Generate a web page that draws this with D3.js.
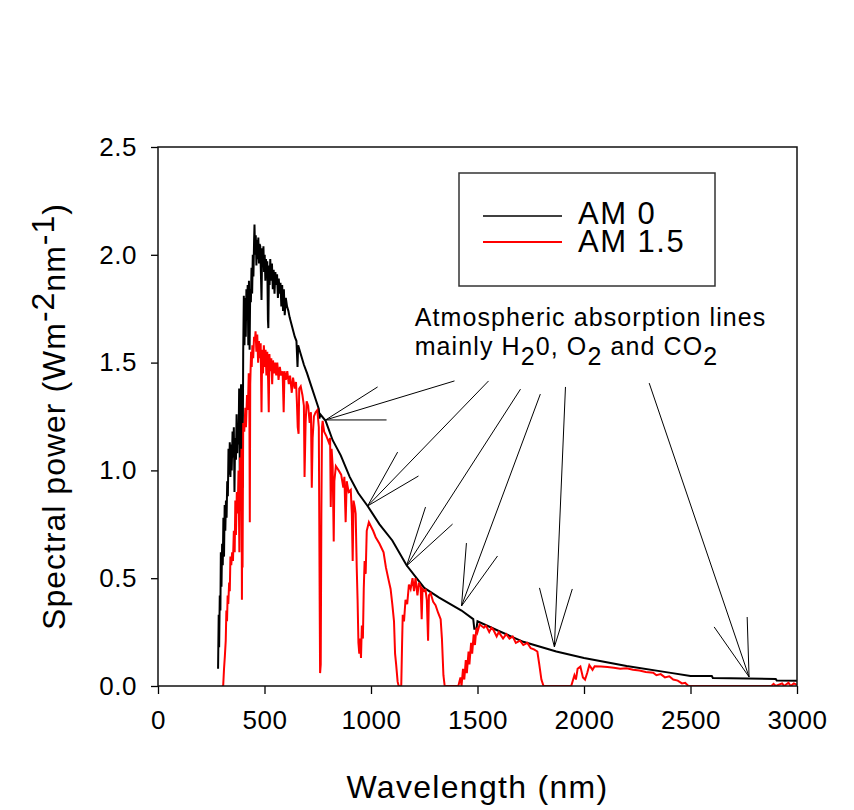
<!DOCTYPE html>
<html>
<head>
<meta charset="utf-8">
<script src="https://cdn.jsdelivr.net/npm/d3@7"></script>
<style>
  body { margin: 0; background: #fff; }
  svg text { font-family: Arial, "Liberation Sans", sans-serif; fill: #000; white-space: pre; }
</style>
</head>
<body>
<svg id="chart" width="854" height="810"></svg>
<script>
// AM 0 spectrum, [wavelength nm, W m-2 nm-1]
const am0 = [
  [282, 0.08], [285, 0.33], [287, 0.18], [290, 0.42], [293, 0.35], [295, 0.62], [298, 0.46],
  [301, 0.66], [304, 0.56], [307, 0.78], [310, 0.60], [313, 0.84], [316, 0.72], [319, 0.86],
  [322, 0.78], [325, 0.95], [328, 0.88], [331, 1.10], [334, 0.98], [337, 1.13], [340, 0.97],
  [343, 1.12], [346, 1.00], [350, 1.18], [353, 1.06], [356, 1.20], [359, 0.90], [362, 1.15],
  [366, 1.05], [369, 1.26], [372, 1.08], [375, 1.22], [378, 1.12], [381, 1.38], [384, 1.00],
  [387, 1.30], [390, 1.40], [393, 0.85], [395, 1.30], [397, 0.92], [400, 1.55], [403, 1.81],
  [406, 1.58], [409, 1.80], [412, 1.62], [415, 1.84], [418, 1.70], [421, 1.86], [424, 1.58],
  [427, 1.88], [430, 1.56], [433, 1.84], [436, 1.78], [439, 1.94], [442, 1.82], [445, 2.00],
  [448, 1.90], [451, 2.06], [453, 2.14], [456, 2.00], [459, 2.09], [462, 1.95], [465, 2.07],
  [468, 1.98], [471, 2.08], [474, 1.96], [477, 2.05], [480, 2.04], [483, 1.92], [486, 1.79],
  [489, 2.03], [492, 1.96], [495, 2.04], [498, 1.92], [501, 2.00], [504, 1.88], [507, 1.98],
  [510, 1.90], [513, 1.97], [516, 1.70], [518, 1.66], [521, 1.95], [524, 1.86], [527, 1.98],
  [531, 1.88], [535, 1.96], [539, 1.84], [543, 1.93], [547, 1.82], [551, 1.92], [555, 1.86],
  [559, 1.91], [563, 1.80], [567, 1.89], [571, 1.82], [575, 1.87], [579, 1.76], [583, 1.86],
  [587, 1.74], [591, 1.84], [595, 1.72], [600, 1.80], [606, 1.76], [612, 1.74], [618, 1.71],
  [626, 1.68], [634, 1.65], [642, 1.62], [650, 1.60], [655, 1.48], [658, 1.58], [670, 1.54],
  [685, 1.49], [700, 1.45], [720, 1.39], [740, 1.33], [755, 1.285], [758, 1.24], [762, 1.26],
  [787, 1.23], [820, 1.14], [858, 1.07], [900, 0.97], [940, 0.895], [984, 0.835], [1040, 0.75],
  [1100, 0.675], [1167, 0.56], [1250, 0.455], [1320, 0.41], [1425, 0.35], [1480, 0.31],
  [1485, 0.265], [1495, 0.265], [1500, 0.30], [1600, 0.255], [1715, 0.205], [1870, 0.16],
  [2000, 0.13], [2200, 0.093], [2400, 0.062], [2500, 0.046], [2600, 0.046], [2605, 0.037],
  [2900, 0.033], [2905, 0.025], [3000, 0.024]
];

// AM 1.5 spectrum
const am15 = [
  [300, 0.0], [306, 0.0], [310, 0.08], [314, 0.14], [318, 0.21], [321, 0.35], [324, 0.30],
  [327, 0.42], [330, 0.38], [334, 0.48], [337, 0.44], [340, 0.60], [344, 0.56], [348, 0.62],
  [352, 0.58], [356, 0.72], [360, 0.62], [363, 0.86], [366, 0.70], [370, 0.90], [374, 0.80],
  [378, 1.00], [382, 0.62], [385, 1.06], [388, 0.90], [392, 1.10], [394, 0.40], [396, 0.95],
  [397, 0.55], [400, 1.22], [405, 1.18], [410, 1.29], [413, 1.20], [418, 1.35], [422, 1.28],
  [426, 1.45], [429, 1.30], [431, 0.76], [433, 1.40], [437, 1.55], [440, 1.48], [443, 1.58],
  [447, 1.52], [451, 1.62], [455, 1.60], [458, 1.645], [462, 1.55], [466, 1.63], [470, 1.50],
  [474, 1.60], [478, 1.52], [482, 1.59], [486, 1.27], [489, 1.56], [493, 1.45], [497, 1.58],
  [501, 1.48], [505, 1.56], [509, 1.44], [513, 1.55], [517, 1.42], [520, 1.27], [523, 1.54],
  [528, 1.46], [532, 1.52], [536, 1.40], [540, 1.51], [545, 1.45], [550, 1.50], [555, 1.44],
  [560, 1.50], [566, 1.42], [572, 1.48], [578, 1.44], [585, 1.46], [590, 1.27], [594, 1.46],
  [600, 1.42], [607, 1.46], [614, 1.40], [620, 1.44], [628, 1.36], [634, 1.43], [642, 1.38],
  [648, 1.41], [652, 1.32], [656, 1.20], [660, 1.17], [663, 1.38], [670, 1.39], [678, 1.35],
  [685, 1.30], [688, 0.97], [693, 1.22], [698, 1.32], [705, 1.30], [712, 1.22], [718, 1.27],
  [722, 0.92], [726, 1.15], [732, 1.25], [740, 1.27], [748, 1.28], [755, 1.20], [759, 0.40],
  [761, 0.06], [764, 0.10], [767, 0.80], [770, 1.20], [773, 1.23], [780, 1.18], [790, 1.16],
  [802, 1.13], [808, 1.15], [811, 0.83], [815, 1.10], [820, 1.02], [825, 0.67], [828, 0.95],
  [835, 1.02], [848, 1.00], [860, 0.98], [870, 0.92], [875, 0.97], [881, 0.76], [886, 0.95],
  [895, 0.90], [905, 0.91], [910, 0.80], [914, 0.58], [918, 0.86], [924, 0.83], [928, 0.80],
  [933, 0.55], [937, 0.40], [941, 0.20], [945, 0.15], [949, 0.22], [953, 0.13], [957, 0.28],
  [962, 0.22], [966, 0.45], [970, 0.58], [975, 0.52], [980, 0.72], [990, 0.76], [1000, 0.74],
  [1010, 0.72], [1022, 0.69], [1040, 0.66], [1059, 0.62], [1070, 0.55], [1083, 0.49],
  [1092, 0.45], [1100, 0.38], [1108, 0.30], [1113, 0.15], [1118, 0.10], [1125, 0.02],
  [1130, 0.0], [1142, 0.0], [1146, 0.20], [1149, 0.33], [1155, 0.30], [1162, 0.40],
  [1170, 0.38], [1178, 0.47], [1186, 0.45], [1195, 0.50], [1202, 0.44], [1209, 0.50],
  [1218, 0.42], [1225, 0.48], [1233, 0.46], [1238, 0.31], [1242, 0.45], [1250, 0.44],
  [1256, 0.445], [1262, 0.40], [1268, 0.21], [1272, 0.42], [1280, 0.43], [1292, 0.39],
  [1303, 0.375], [1315, 0.34], [1327, 0.31], [1333, 0.22], [1340, 0.05], [1346, 0.0],
  [1410, 0.0], [1420, 0.04], [1425, 0.0], [1432, 0.08], [1438, 0.03], [1445, 0.12],
  [1450, 0.06], [1458, 0.16], [1462, 0.10], [1470, 0.20], [1475, 0.15], [1482, 0.24],
  [1488, 0.19], [1495, 0.27], [1500, 0.25], [1510, 0.285], [1530, 0.27], [1540, 0.28],
  [1555, 0.25], [1565, 0.27], [1575, 0.26], [1590, 0.23], [1600, 0.25], [1620, 0.22],
  [1635, 0.24], [1650, 0.22], [1665, 0.23], [1680, 0.20], [1700, 0.21], [1715, 0.19],
  [1734, 0.20], [1750, 0.175], [1765, 0.17], [1781, 0.16], [1790, 0.10], [1800, 0.03],
  [1810, 0.0], [1940, 0.0], [1955, 0.05], [1962, 0.03], [1970, 0.08], [1983, 0.09],
  [1995, 0.04], [2005, 0.03], [2015, 0.06], [2025, 0.097], [2040, 0.075], [2050, 0.092],
  [2080, 0.09], [2110, 0.088], [2140, 0.085], [2170, 0.08], [2200, 0.082], [2230, 0.075],
  [2260, 0.072], [2290, 0.065], [2325, 0.062], [2340, 0.05], [2360, 0.055], [2380, 0.04],
  [2400, 0.045], [2419, 0.03], [2440, 0.025], [2460, 0.012], [2475, 0.015], [2490, 0.0],
  [2880, 0.0], [2890, 0.01], [2900, 0.0], [2930, 0.012], [2940, 0.0], [2960, 0.015],
  [2970, 0.0], [2985, 0.012], [3000, 0.005]
];

const xTicks = [0, 500, 1000, 1500, 2000, 2500, 3000];
const yTicks = [0.0, 0.5, 1.0, 1.5, 2.0, 2.5];
const seriesNames = ['AM 0', 'AM 1.5'];
const seriesColors = ['#000', '#ff0000'];

// annotation arrows in data units: tip on the curve, long tail to the text, two barbs
const arrowTips  = [[787, 1.234], [984, 0.835], [1167, 0.557], [1425, 0.371], [1861, 0.181], [2775, 0.042]];
const arrowTails = [[1392, 1.415], [1552, 1.415], [1702, 1.377], [1795, 1.354], [1913, 1.387], [2306, 1.405]];
const arrowBarbs = [
  [[1031, 1.387], [1073, 1.234]],
  [[1125, 1.085], [1223, 0.974]],
  [[1256, 0.830], [1383, 0.751]],
  [[1448, 0.663], [1594, 0.603]],
  [[1791, 0.455], [1945, 0.450]],
  [[2611, 0.274], [2766, 0.320]]
];

const svg = d3.select('#chart');
const W = 854, H = 810;
const margin = { left: 158, right: 57, top: 147, bottom: 124 };
const w = W - margin.left - margin.right;
const h = H - margin.top - margin.bottom;

const x = d3.scaleLinear().domain([0, 3000]).range([0, w]);
const y = d3.scaleLinear().domain([0, 2.5]).range([h, 0]);

const g = svg.append('g').attr('transform', 'translate(' + margin.left + ',' + margin.top + ')');

g.append('clipPath').attr('id', 'plot-clip')
  .append('rect').attr('width', w).attr('height', h);

// Axes
const xAxis = g.append('g').attr('transform', 'translate(0,' + h + ')')
  .call(d3.axisBottom(x).tickValues(xTicks).tickSize(8).tickPadding(17).tickFormat(d3.format('d')));
const yAxis = g.append('g')
  .call(d3.axisLeft(y).tickValues(yTicks).tickSize(7).tickPadding(14).tickFormat(d3.format('.1f')));

[xAxis, yAxis].forEach(a => {
  a.select('.domain').remove();
  a.selectAll('line').attr('stroke', '#000').attr('stroke-width', 1.3);
  a.selectAll('text').style('font-size', '26px').style('letter-spacing', '0.5px')
    .attr('fill', '#000');
});

// Lines
const line = d3.line().x(d => x(d[0])).y(d => y(d[1]));
const paths = g.append('g').attr('clip-path', 'url(#plot-clip)');
[am0, am15].forEach((s, i) => {
  paths.append('path')
    .datum(s)
    .attr('d', line)
    .attr('fill', 'none')
    .attr('stroke', seriesColors[i])
    .attr('stroke-width', 2)
    .attr('stroke-linejoin', 'miter');
});

// Frame
g.append('rect').attr('width', w).attr('height', h)
  .attr('fill', 'none').attr('stroke', '#111').attr('stroke-width', 1.5);

// Arrows
const arrows = g.append('g').attr('stroke', '#000').attr('stroke-width', 1);
arrowTips.forEach((tip, i) => {
  [arrowTails[i], arrowBarbs[i][0], arrowBarbs[i][1]].forEach(p => {
    arrows.append('line')
      .attr('x1', x(tip[0])).attr('y1', y(tip[1]))
      .attr('x2', x(p[0])).attr('y2', y(p[1]));
  });
});

// Annotation text
const note = g.append('g').style('font-size', '25px').style('letter-spacing', '1.1px');
note.append('text').attr('x', x(1205)).attr('y', y(1.672)).text('Atmospheric absorption lines');
const t2 = note.append('text').attr('x', x(1205)).attr('y', y(1.533));
t2.append('tspan').text('mainly H');
t2.append('tspan').attr('dy', 10).text('2');
t2.append('tspan').attr('dy', -10).text('0, O');
t2.append('tspan').attr('dy', 10).text('2');
t2.append('tspan').attr('dy', -10).text(' and CO');
t2.append('tspan').attr('dy', 10).text('2');

// Legend
const legend = svg.append('g').attr('transform', 'translate(459,173)');
legend.append('rect').attr('width', 256).attr('height', 113)
  .attr('fill', '#fff').attr('stroke', '#333').attr('stroke-width', 1.5);
seriesNames.forEach((name, i) => {
  legend.append('line')
    .attr('x1', 24).attr('x2', 103)
    .attr('y1', 43 + i * 26).attr('y2', 43 + i * 26)
    .attr('stroke', seriesColors[i]).attr('stroke-width', i ? 2 : 1.5);
  legend.append('text')
    .attr('x', 119).attr('y', 51 + i * 28)
    .style('font-size', '31px').style('letter-spacing', '1.5px')
    .text(name);
});

// Axis titles
svg.append('text')
  .attr('x', margin.left + w / 2).attr('y', 798)
  .attr('text-anchor', 'middle')
  .style('font-size', '32px').style('letter-spacing', '1.3px')
  .text('Wavelength (nm)');

const yt = svg.append('text')
  .attr('transform', 'translate(65,' + (margin.top + h / 2) + ') rotate(-90)')
  .attr('text-anchor', 'middle')
  .style('font-size', '32px').style('letter-spacing', '1px');
yt.append('tspan').text('Spectral power (Wm');
yt.append('tspan').attr('dy', -11).text('-2');
yt.append('tspan').attr('dy', 11).text('nm');
yt.append('tspan').attr('dy', -11).text('-1');
yt.append('tspan').attr('dy', 11).text(')');
</script>
</body>
</html>
